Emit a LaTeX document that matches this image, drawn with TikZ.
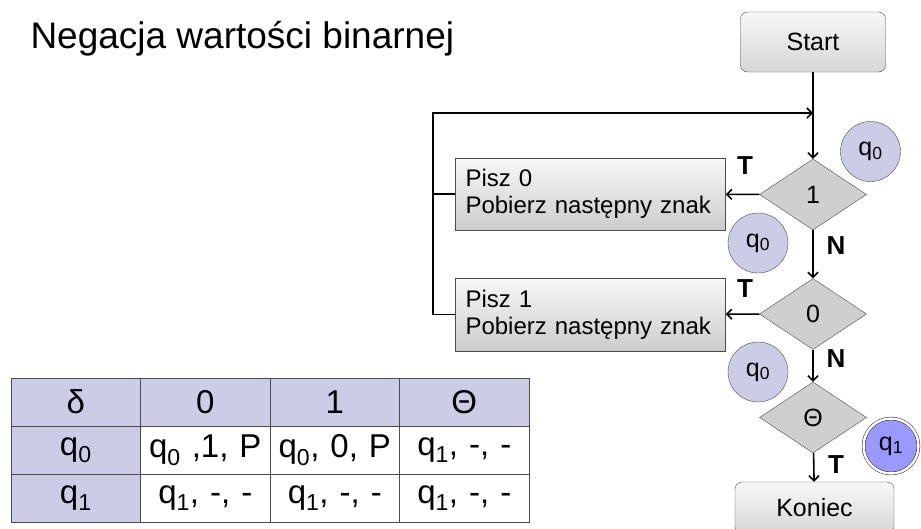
\documentclass[tikz,border=0pt]{standalone}
\usepackage{fontspec}
\setmainfont{Liberation Sans}
\usetikzlibrary{shapes.geometric,arrows.meta,matrix,positioning}

\definecolor{lavender}{RGB}{204,204,230}
\definecolor{stateblue}{RGB}{153,153,255}
\definecolor{edgegray}{RGB}{75,75,75}

\tikzset{
 term/.style={draw=edgegray,rounded corners=7pt,top color=gray!6,bottom color=gray!32,
   minimum width=145pt,minimum height=60pt,font=\fontsize{25}{29}\selectfont},
 action/.style={draw=edgegray,top color=gray!6,bottom color=gray!40,minimum width=270pt,
   minimum height=72pt,text width=250pt,align=left,inner sep=0pt,font=\fontsize{24}{27}\selectfont},
 test/.style={diamond,draw=edgegray,fill=gray!38,minimum width=107pt,minimum height=71pt,
   inner sep=0pt,font=\fontsize{25}{28}\selectfont},
 state/.style={circle,draw=edgegray,fill=lavender,minimum size=60pt,inner sep=0pt,
   font=\fontsize{25}{28}\selectfont},
 answer/.style={font=\bfseries\fontsize{26}{30}\selectfont},
 flow/.style={line width=1.6pt,-{Straight Barb[length=5pt,width=10pt]}},
 wire/.style={line width=1.6pt}
}

\begin{document}
\begin{tikzpicture}[x=1pt,y=-1pt]
\useasboundingbox (0,0) rectangle (921,528);
\clip (0,0) rectangle (921,528);

\node[anchor=base west,font=\fontsize{37}{42}\selectfont] (title) at (27,48) {Negacja wartości binarnej};

% flowchart
\node[term] (start) at (813,42) {Start};
\node[test] (t1) at (813,194.5) {1};
\node[test] (t0) at (813,314) {0};
\node[test] (tend) at (813,417.5) {Θ};
\node[term,minimum width=159pt,minimum height=52pt] (stop) at (814.5,508) {Koniec};

\node[action] (write0) at (590.5,194) {Pisz 0\\Pobierz następny znak};
\node[action,minimum height=73pt] (write1) at (590.5,314.5) {Pisz 1\\Pobierz następny znak};

\coordinate (back) at (433,113);
\coordinate (merge) at (813,113);

\draw[flow] (start) -- (t1);
\draw[flow] (t1) -- (write0);
\draw[flow] (t1) -- (t0);
\draw[flow] (t0) -- (write1);
\draw[flow] (t0) -- (tend);
\draw[flow] (tend) -- (stop);
\draw[flow] (write1.west) -| (back) -- (merge);
\draw[wire] (write0.west) -- (write0.west -| back);

\node[answer] (yes1) at (745,166) {T};
\node[answer] (no1) at (836,246) {N};
\node[answer] (yes0) at (745,289) {T};
\node[answer] (no0) at (836,359) {N};
\node[answer] (yesend) at (836,465) {T};

% states
\node[state] (s1) at (870.5,151.5) {q\textsubscript{0}};
\node[state] (s2) at (758,243) {q\textsubscript{0}};
\node[state] (s3) at (758,372) {q\textsubscript{0}};
\node[state,fill=stateblue,draw=black,double=white,double distance=2.5pt,minimum size=55pt] (s4) at (891,446) {q\textsubscript{1}};

% transition table
\matrix (delta) [matrix of nodes,anchor=north west,
 nodes={draw=edgegray,line width=1pt,minimum height=48pt,text width=129.5pt,inner sep=0pt,
   anchor=center,align=center,font=\fontsize{33}{36}\selectfont},
 column 1/.style={nodes={fill=lavender}},
 row 1/.style={nodes={fill=lavender}},
 row sep=-1pt,column sep=-1pt] at (7,374) {
 δ & 0 & 1 & Θ \\
 q\textsubscript{0} & q\textsubscript{0} ,1, P & q\textsubscript{0}, 0, P & q\textsubscript{1}, -, - \\
 q\textsubscript{1} & q\textsubscript{1}, -, - & q\textsubscript{1}, -, - & q\textsubscript{1}, -, - \\
};
\end{tikzpicture}
\end{document}
